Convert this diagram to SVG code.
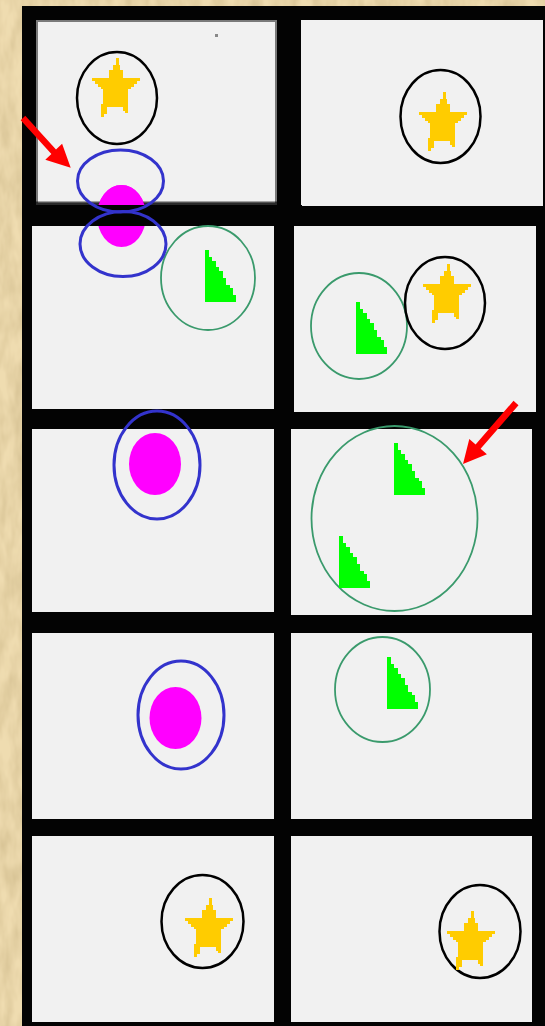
<svg xmlns="http://www.w3.org/2000/svg" width="545" height="1026" viewBox="0 0 545 1026">
  <defs>
    <filter id="paper" x="0" y="0" width="100%" height="100%">
      <feTurbulence type="fractalNoise" baseFrequency="0.08 0.03" numOctaves="3" seed="4" result="n"/>
      <feColorMatrix in="n" type="matrix" values="0 0 0 0 0.55  0 0 0 0 0.42  0 0 0 0 0.2  0 0 0 0.9 -0.25" result="c"/>
      <feComposite in="c" in2="SourceGraphic" operator="atop"/>
    </filter>
    <path id="star" d="M-1.5,0 H1.5 V7 H2.5 V12 H5.5 V20 H22.5 V23 H19.5 V26 H16.5 V29 H13.5 V31 H10.5 V55 H7.5 V53 H5.5 V49 H-10.5 V56 H-13.5 V59 H-16.5 V46 H-14.5 V31 H-16.5 V29 H-19.5 V26 H-22.5 V23 H-25.5 V20 H-8.5 V12 H-4.5 V7 H-1.5 Z"/>
    <path id="tri" d="M0,0 H4 V7 H7 V11 H11 V17 H14 V21 H18 V28 H21 V35 H25 V38 H28 V45 H31 V52 H0 Z"/>
    <style>
      .panel { fill: #f1f1f1; }
      .star { fill: #ffcc00; shape-rendering: crispEdges; }
      .tri { fill: #00ff00; shape-rendering: crispEdges; }
      .ring-k { fill: none; stroke: #000; stroke-width: 2.5; }
      .ring-g { fill: none; stroke: #3a9a6c; stroke-width: 1.8; }
      .ring-b { fill: none; stroke: #3333cc; stroke-width: 3; }
      .blob { fill: #ff00ff; }
      .arrow { fill: #ff0000; }
    </style>
  </defs>

  <!-- parchment background -->
  <rect x="0" y="0" width="545" height="1026" fill="#efdcb0" filter="url(#paper)"/>
  <!-- black frame -->
  <rect x="22" y="6" width="523" height="1020" fill="#030303"/>

  <!-- Row 1 left -->
  <g id="panel-r1-left">
    <rect x="37" y="21" width="239" height="183" class="panel" stroke="#7a7a7a" stroke-width="2"/>
    <rect x="215" y="34" width="3" height="3" fill="#888"/>
    <ellipse cx="121.5" cy="216" rx="24.5" ry="31" class="blob"/>
    <rect x="36" y="201.5" width="241" height="3.5" fill="#000" fill-opacity="0.65"/>
    <ellipse cx="117" cy="98" rx="40" ry="46" class="ring-k"/>
    <use href="#star" x="117" y="58" class="star"/>
  </g>

  <!-- Row 1 right -->
  <g id="panel-r1-right">
    <rect x="301" y="20" width="242" height="186" class="panel"/>
    <ellipse cx="440.5" cy="116.5" rx="40" ry="46.5" class="ring-k"/>
    <use href="#star" x="444.5" y="92" class="star"/>
  </g>

  <!-- Row 2 left -->
  <g id="panel-r2-left">
    <rect x="32" y="226" width="242" height="183" class="panel"/>
    <ellipse cx="121.5" cy="216" rx="24.5" ry="31" class="blob"/>
    <rect x="22" y="205" width="280" height="21" fill="#030303"/>
    <ellipse cx="208" cy="278" rx="47" ry="52" class="ring-g"/>
    <use href="#tri" x="205" y="250" class="tri"/>
  </g>

  <!-- blue rings over the split blob -->
  <g id="rings-r1r2">
    <ellipse cx="120.5" cy="181" rx="43" ry="31" class="ring-b"/>
    <ellipse cx="123" cy="244" rx="43" ry="32.5" class="ring-b"/>
  </g>

  <!-- Row 2 right -->
  <g id="panel-r2-right">
    <rect x="294" y="226" width="242" height="186" class="panel"/>
    <ellipse cx="359" cy="326" rx="48" ry="53" class="ring-g"/>
    <use href="#tri" x="356" y="302" class="tri"/>
    <ellipse cx="445" cy="303" rx="40" ry="46" class="ring-k"/>
    <use href="#star" x="448" y="264" class="star"/>
  </g>

  <!-- Row 3 left -->
  <g id="panel-r3-left">
    <rect x="32" y="429" width="242" height="183" class="panel"/>
    <ellipse cx="155" cy="464" rx="26" ry="31" class="blob"/>
    <ellipse cx="157" cy="465" rx="43" ry="54" class="ring-b"/>
  </g>

  <!-- Row 3 right -->
  <g id="panel-r3-right">
    <rect x="291" y="429" width="241" height="186" class="panel"/>
    <ellipse cx="394.5" cy="518.5" rx="83" ry="92.5" class="ring-g"/>
    <use href="#tri" x="394" y="443" class="tri"/>
    <use href="#tri" x="339" y="536" class="tri"/>
  </g>

  <!-- Row 4 left -->
  <g id="panel-r4-left">
    <rect x="32" y="633" width="242" height="186" class="panel"/>
    <ellipse cx="175.5" cy="718" rx="26" ry="31" class="blob"/>
    <ellipse cx="181" cy="715" rx="43" ry="54" class="ring-b"/>
  </g>

  <!-- Row 4 right -->
  <g id="panel-r4-right">
    <rect x="291" y="633" width="241" height="186" class="panel"/>
    <ellipse cx="382.5" cy="689.5" rx="47.5" ry="52.5" class="ring-g"/>
    <use href="#tri" x="387" y="657" class="tri"/>
  </g>

  <!-- Row 5 left -->
  <g id="panel-r5-left">
    <rect x="32" y="836" width="242" height="186" class="panel"/>
    <ellipse cx="202.5" cy="921.5" rx="41" ry="46.5" class="ring-k"/>
    <use href="#star" x="210" y="898" class="star"/>
  </g>

  <!-- Row 5 right -->
  <g id="panel-r5-right">
    <rect x="291" y="836" width="241" height="186" class="panel"/>
    <ellipse cx="480" cy="931.5" rx="40.5" ry="46.5" class="ring-k"/>
    <use href="#star" x="472" y="911" class="star"/>
  </g>

  <!-- red pointer arrows -->
  <g id="connectors">
    <polygon class="arrow" points="25.3,115.8 56,149.5 62.1,143.7 70.7,167.7 45.3,159.7 51.4,153.9 20.7,120.2"/>
    <polygon class="arrow" points="513.5,400.8 475.6,444.4 469.3,439 463,464 486.9,454.2 480.6,448.8 518.5,405.2"/>
  </g>
</svg>
